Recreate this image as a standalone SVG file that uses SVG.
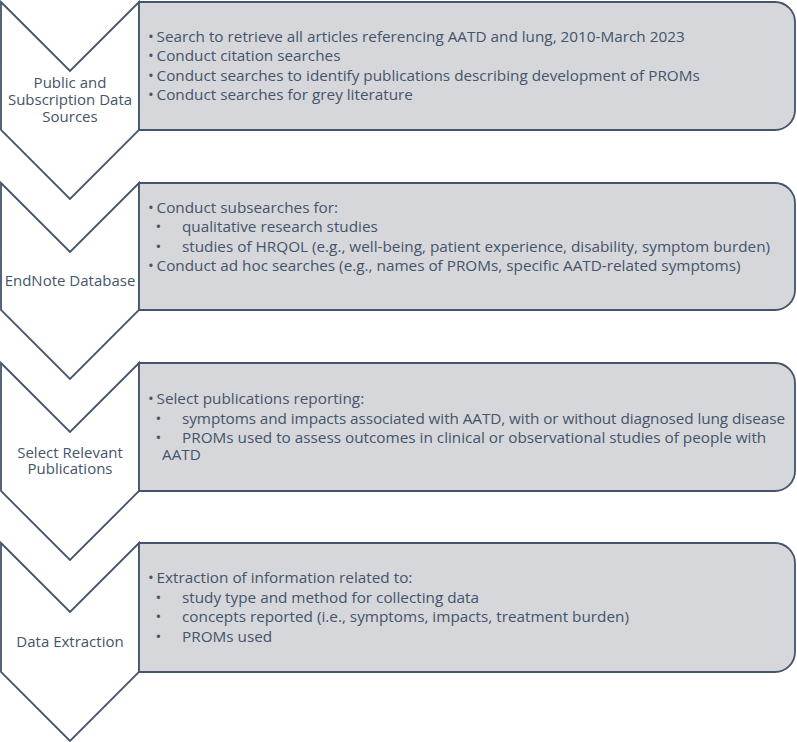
<svg xmlns="http://www.w3.org/2000/svg" width="797" height="742" viewBox="0 0 797 742">
<style>
.chev{fill:#ffffff;stroke:#44546a;stroke-width:1.8;stroke-linejoin:miter}
.box{fill:#d6d7da;stroke:#44546a;stroke-width:1.8}
text{font-family:"Open Sans","Noto Sans","Liberation Sans",sans-serif;font-size:15.3px;fill:#44546a}
.lbl{text-anchor:middle;font-size:15px}
</style>
<rect x="0" y="0" width="797" height="742" fill="#ffffff"/>
<g id="connectors"></g>
<g id="step1">
<polygon class="chev" points="1,2 70,71 139,2 139,130 70,199 1,130"/>
<text class="lbl" x="70" y="88.3">Public and</text>
<text class="lbl" x="70" y="105.3">Subscription Data</text>
<text class="lbl" x="70" y="122.3">Sources</text>
</g>
<g id="box1">
<path class="box" d="M139,2 H775 A20,20 0 0 1 795,22 V110 A20,20 0 0 1 775,130 H139 Z"/>
<text x="148" y="41.7">•</text><text x="156.5" y="41.7">Search to retrieve all articles referencing AATD and lung, 2010-March 2023</text>
<text x="148" y="61">•</text><text x="156.5" y="61">Conduct citation searches</text>
<text x="148" y="80.7">•</text><text x="156.5" y="80.7">Conduct searches to identify publications describing development of PROMs</text>
<text x="148" y="100.3">•</text><text x="156.5" y="100.3">Conduct searches for grey literature</text>
</g>
<g id="step2">
<polygon class="chev" points="1,183 70,252 139,183 139,310 70,379 1,310"/>
<text class="lbl" x="70" y="286.3">EndNote Database</text>
</g>
<g id="box2">
<path class="box" d="M139,183 H775 A20,20 0 0 1 795,203 V290 A20,20 0 0 1 775,310 H139 Z"/>
<text x="148" y="213.3">•</text><text x="156.5" y="213.3">Conduct subsearches for:</text>
<text x="155.5" y="232.3">•</text><text x="182" y="232.3">qualitative research studies</text>
<text x="155.5" y="252">•</text><text x="182" y="252">studies of HRQOL (e.g., well-being, patient experience, disability, symptom burden)</text>
<text x="148" y="271">•</text><text x="156.5" y="271">Conduct ad hoc searches (e.g., names of PROMs, specific AATD-related symptoms)</text>
</g>
<g id="step3">
<polygon class="chev" points="1,363 70,432 139,363 139,491 70,560 1,491"/>
<text class="lbl" x="70" y="458.3">Select Relevant</text>
<text class="lbl" x="70" y="474.3">Publications</text>
</g>
<g id="box3">
<path class="box" d="M139,363 H775 A20,20 0 0 1 795,383 V471 A20,20 0 0 1 775,491 H139 Z"/>
<text x="148" y="404">•</text><text x="156.5" y="404">Select publications reporting:</text>
<text x="155.5" y="424">•</text><text x="182" y="424" textLength="603" lengthAdjust="spacing">symptoms and impacts associated with AATD, with or without diagnosed lung disease</text>
<text x="155.5" y="443">•</text><text x="182" y="443">PROMs used to assess outcomes in clinical or observational studies of people with</text>
<text x="162" y="459.5">AATD</text>
</g>
<g id="step4">
<polygon class="chev" points="1,543 70,612 139,543 139,672 70,741 1,672"/>
<text class="lbl" x="70" y="647">Data Extraction</text>
</g>
<g id="box4">
<path class="box" d="M139,543 H775 A20,20 0 0 1 795,563 V652 A20,20 0 0 1 775,672 H139 Z"/>
<text x="148" y="583.3">•</text><text x="156.5" y="583.3">Extraction of information related to:</text>
<text x="155.5" y="602.7">•</text><text x="182" y="602.7">study type and method for collecting data</text>
<text x="155.5" y="622">•</text><text x="182" y="622">concepts reported (i.e., symptoms, impacts, treatment burden)</text>
<text x="155.5" y="642">•</text><text x="182" y="642">PROMs used</text>
</g>
</svg>
